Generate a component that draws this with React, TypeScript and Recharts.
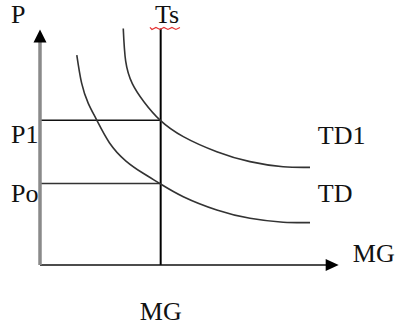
import React from 'react';
import { ComposedChart, Line, XAxis, YAxis, ReferenceLine, ReferenceDot } from 'recharts';

// demand curve TD1 (shifted up) and TD
const td1Curve = [
  { mg: 2.76, p: 11.6 },
  { mg: 2.84, p: 10.0 },
  { mg: 3.06, p: 8.9 },
  { mg: 3.45, p: 8.0 },
  { mg: 3.98, p: 7.11 },
  { mg: 4.75, p: 6.3 },
  { mg: 5.86, p: 5.56 },
  { mg: 6.96, p: 5.07 },
  { mg: 8.06, p: 4.82 },
  { mg: 8.95, p: 4.79 },
];

const tdCurve = [
  { mg: 1.22, p: 10.3 },
  { mg: 1.38, p: 8.92 },
  { mg: 1.6, p: 7.93 },
  { mg: 1.88, p: 7.11 },
  { mg: 2.3, p: 6.0 },
  { mg: 2.85, p: 5.1 },
  { mg: 3.42, p: 4.5 },
  { mg: 3.98, p: 3.99 },
  { mg: 4.75, p: 3.35 },
  { mg: 5.86, p: 2.7 },
  { mg: 6.96, p: 2.29 },
  { mg: 8.06, p: 2.1 },
  { mg: 8.95, p: 2.08 },
];

const tsLevel = 4;
const tsTop = 11.6;
const p1Level = 7.1;
const poLevel = 4;
const mgAxisEnd = 9.9;
const pAxisEnd = 11.55;

const labels = [
  { text: 'P', mg: -0.96, p: 11.85 },
  { text: 'Ts', mg: 3.81, p: 11.85 },
  { text: 'P1', mg: -0.96, p: 5.99 },
  { text: 'Po', mg: -0.96, p: 3.09 },
  { text: 'TD1', mg: 9.21, p: 5.94 },
  { text: 'TD', mg: 9.21, p: 3.09 },
  { text: 'MG', mg: 10.37, p: 0.15 },
  { text: 'MG', mg: 3.31, p: -2.7 },
];

const FONT = "'Liberation Serif', 'Times New Roman', serif";

const UpArrow = (props: any) => {
  const { cx, cy } = props;
  return <polygon points={`${cx},${cy} ${cx - 6.5},${cy + 13} ${cx + 6.5},${cy + 13}`} fill="#000" />;
};

const RightArrow = (props: any) => {
  const { cx, cy } = props;
  return <polygon points={`${cx},${cy} ${cx - 13},${cy - 6} ${cx - 13},${cy + 6}`} fill="#000" />;
};

// red spell-check squiggle under "Ts"
const Squiggle = (props: any) => {
  const { cx, cy } = props;
  let d = `M${cx - 5},${cy + 4}`;
  for (let i = 0; i < 8; i++) {
    d += ` L${cx - 3 + i * 4},${cy + (i % 2 === 0 ? 6 : 4)}`;
  }
  return <path d={d} fill="none" stroke="#e53030" strokeWidth={1.2} />;
};

const makeLabel = (text: string) => (props: any) => (
  <text x={props.cx} y={props.cy} fontFamily={FONT} fontSize={26} fill="#111">
    {text}
  </text>
);

export default function App() {
  return (
    <div style={{ position: 'absolute', left: 0, top: 0, background: '#fff' }}>
      <ComposedChart width={399} height={332} margin={{ top: 0, right: 0, bottom: 67, left: 40 }}>
        <XAxis type="number" dataKey="mg" domain={[0, 11.9]} hide allowDataOverflow />
        <YAxis type="number" dataKey="p" domain={[0, 13]} hide allowDataOverflow />

        {/* price levels */}
        <ReferenceLine segment={[{ x: 0, y: p1Level }, { x: tsLevel, y: p1Level }]} stroke="#111" strokeWidth={1.5} ifOverflow="visible" />
        <ReferenceLine segment={[{ x: 0, y: poLevel }, { x: tsLevel, y: poLevel }]} stroke="#333" strokeWidth={1.5} ifOverflow="visible" />

        {/* supply Ts */}
        <ReferenceLine segment={[{ x: tsLevel, y: 0 }, { x: tsLevel, y: tsTop }]} stroke="#000" strokeWidth={2} ifOverflow="visible" />

        {/* axes */}
        <ReferenceLine segment={[{ x: 0, y: 0 }, { x: mgAxisEnd - 0.3, y: 0 }]} stroke="#111" strokeWidth={1.5} ifOverflow="visible" />
        <ReferenceLine segment={[{ x: 0, y: 0 }, { x: 0, y: pAxisEnd - 0.5 }]} stroke="#8a8a8a" strokeWidth={3.5} ifOverflow="visible" />
        <ReferenceDot x={0} y={pAxisEnd} r={0} shape={UpArrow} ifOverflow="visible" />
        <ReferenceDot x={mgAxisEnd} y={0} r={0} shape={RightArrow} ifOverflow="visible" />

        <Line data={td1Curve} dataKey="p" type="natural" stroke="#333" strokeWidth={1.6} dot={false} isAnimationActive={false} />
        <Line data={tdCurve} dataKey="p" type="natural" stroke="#333" strokeWidth={1.6} dot={false} isAnimationActive={false} />

        {labels.map((l, i) => (
          <ReferenceDot key={i} x={l.mg} y={l.p} r={0} shape={makeLabel(l.text)} ifOverflow="visible" />
        ))}
        <ReferenceDot x={labels[1].mg} y={labels[1].p} r={0} shape={Squiggle} ifOverflow="visible" />
      </ComposedChart>
    </div>
  );
}
